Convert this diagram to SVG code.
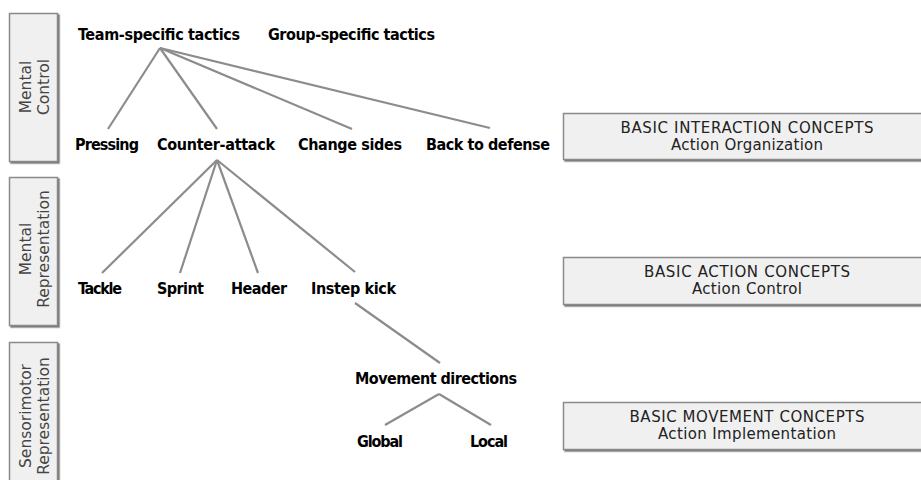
<svg xmlns="http://www.w3.org/2000/svg" width="921" height="480" viewBox="0 0 921 480">
  <defs>
    <filter id="shadow" x="-10%" y="-10%" width="130%" height="130%">
      <feDropShadow dx="1.5" dy="1.5" stdDeviation="0.6" flood-color="#555" flood-opacity="0.8"/>
    </filter>
  </defs>
  <style>
    .band { fill: #f0f0f0; stroke: #8a8a8a; stroke-width: 1.5; filter: url(#shadow); }
    .bandtxt { font-family: "DejaVu Sans", Verdana, sans-serif; font-size: 15.5px; fill: #444; text-anchor: middle; }
    .concept { fill: #f0f0f0; stroke: #8a8a8a; stroke-width: 1.5; filter: url(#shadow); }
    .concepttxt { font-family: "DejaVu Sans", Verdana, sans-serif; font-size: 15px; fill: #222; text-anchor: middle; }
    .lbl { font-family: "DejaVu Sans Condensed", "DejaVu Sans", sans-serif; font-size: 16px; font-weight: bold; fill: #000; }
    .edge { stroke: #8c8c8c; stroke-width: 2.2; fill: none; stroke-linecap: butt; }
  </style>

  <rect width="921" height="480" fill="#fff"/>

  <!-- level bands on the left -->
  <g id="band-mental-control">
    <rect class="band" x="9.5" y="13.5" width="48" height="148"/>
    <text class="bandtxt" transform="translate(0,87) rotate(-90)"><tspan x="0" y="31">Mental</tspan><tspan x="0" y="49">Control</tspan></text>
  </g>
  <g id="band-mental-representation">
    <rect class="band" x="9.5" y="177.5" width="48" height="148"/>
    <text class="bandtxt" transform="translate(0,249) rotate(-90)"><tspan x="0" y="31">Mental</tspan><tspan x="0" y="49">Representation</tspan></text>
  </g>
  <g id="band-sensorimotor">
    <rect class="band" x="9.5" y="342.5" width="48" height="150"/>
    <text class="bandtxt" transform="translate(0,416) rotate(-90)"><tspan x="0" y="31">Sensorimotor</tspan><tspan x="0" y="49">Representation</tspan></text>
  </g>

  <!-- concept boxes on the right -->
  <g id="concept-interaction">
    <rect class="concept" x="563.5" y="113.5" width="370" height="46"/>
    <text class="concepttxt" x="747" y="133" textLength="253">BASIC INTERACTION CONCEPTS</text>
    <text class="concepttxt" x="747" y="150" textLength="152">Action Organization</text>
  </g>
  <g id="concept-action">
    <rect class="concept" x="563.5" y="257.5" width="370" height="47"/>
    <text class="concepttxt" x="747" y="277" textLength="206">BASIC ACTION CONCEPTS</text>
    <text class="concepttxt" x="747" y="294" textLength="110">Action Control</text>
  </g>
  <g id="concept-movement">
    <rect class="concept" x="563.5" y="402.5" width="370" height="47"/>
    <text class="concepttxt" x="747" y="422" textLength="235">BASIC MOVEMENT CONCEPTS</text>
    <text class="concepttxt" x="747" y="439" textLength="178">Action Implementation</text>
  </g>

  <!-- connectors -->
  <g id="connectors">
    <line class="edge" x1="160" y1="48" x2="108" y2="129"/>
    <line class="edge" x1="160" y1="48" x2="217" y2="129"/>
    <line class="edge" x1="160" y1="48" x2="352" y2="129"/>
    <line class="edge" x1="160" y1="48" x2="490" y2="128"/>
    <line class="edge" x1="217" y1="160" x2="102" y2="273"/>
    <line class="edge" x1="217" y1="160" x2="180" y2="273"/>
    <line class="edge" x1="217" y1="160" x2="258" y2="273"/>
    <line class="edge" x1="217" y1="160" x2="355" y2="272"/>
    <line class="edge" x1="355" y1="303" x2="440" y2="363"/>
    <line class="edge" x1="439" y1="394" x2="385" y2="425"/>
    <line class="edge" x1="439" y1="394" x2="491" y2="425"/>
  </g>

  <!-- tree nodes -->
  <g id="team-tactics"><text class="lbl" x="78" y="40" textLength="162">Team-specific tactics</text></g>
  <g id="group-tactics"><text class="lbl" x="268" y="40" textLength="167">Group-specific tactics</text></g>
  <g id="pressing"><text class="lbl" x="75" y="150" textLength="64">Pressing</text></g>
  <g id="counter-attack"><text class="lbl" x="157" y="150" textLength="118">Counter-attack</text></g>
  <g id="change-sides"><text class="lbl" x="298" y="150" textLength="104">Change sides</text></g>
  <g id="back-to-defense"><text class="lbl" x="426" y="150" textLength="124">Back to defense</text></g>
  <g id="tackle"><text class="lbl" x="78" y="294" textLength="44">Tackle</text></g>
  <g id="sprint"><text class="lbl" x="157" y="294" textLength="47">Sprint</text></g>
  <g id="header"><text class="lbl" x="231" y="294" textLength="56">Header</text></g>
  <g id="instep-kick"><text class="lbl" x="311" y="294" textLength="85">Instep kick</text></g>
  <g id="movement-directions"><text class="lbl" x="355" y="384" textLength="162">Movement directions</text></g>
  <g id="global"><text class="lbl" x="357" y="447" textLength="46">Global</text></g>
  <g id="local"><text class="lbl" x="470" y="447" textLength="38">Local</text></g>
</svg>
